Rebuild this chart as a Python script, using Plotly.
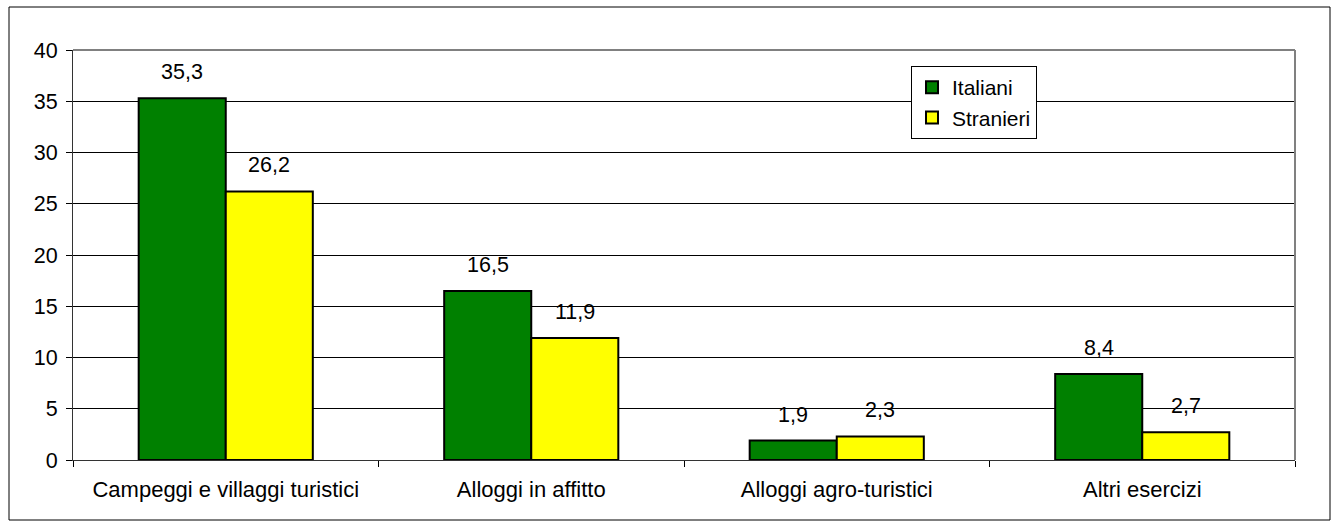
import plotly.graph_objects as go

categories = ["Campeggi e villaggi turistici", "Alloggi in affitto", "Alloggi agro-turistici", "Altri esercizi"]
italiani = [35.3, 16.5, 1.9, 8.4]
stranieri = [26.2, 11.9, 2.3, 2.7]
y_ticks = [0, 5, 10, 15, 20, 25, 30, 35, 40]

W, H = 1338, 527
L, R, T, B = 73, 43, 50, 67
pw, ph = W - L - R, H - T - B
FS = 21.5

def fmt(v):
    return f"{v:.1f}".replace(".", ",")

fig = go.Figure()
fig.add_trace(go.Bar(name="Italiani", x=categories, y=italiani,
                     marker=dict(color="#008000", line=dict(color="black", width=2))))
fig.add_trace(go.Bar(name="Stranieri", x=categories, y=stranieri,
                     marker=dict(color="#FFFF00", line=dict(color="black", width=2))))

slot = pw / len(categories)
bargap = 0.43
barw = slot * (1 - bargap) / 2
anns = []
for series, sh in ((italiani, -barw / 2), (stranieri, barw / 2)):
    for c, v in zip(categories, series):
        anns.append(dict(x=c, y=v, text=fmt(v), showarrow=False, xshift=sh, yshift=26,
                         font=dict(size=FS, color="black")))

font = "Liberation Sans, Arial, sans-serif"
fig.update_layout(
    width=W, height=H,
    margin=dict(l=L, r=R, t=T, b=B),
    barmode="group", bargap=bargap, bargroupgap=0,
    plot_bgcolor="white", paper_bgcolor="white",
    font=dict(family=font, size=FS, color="black"),
    annotations=anns,
    showlegend=True,
    legend=dict(x=(911 - L) / pw, y=(H - B - 66) / ph, xanchor="left", yanchor="top",
                bgcolor="white", bordercolor="black", borderwidth=1,
                font=dict(size=21), itemsizing="constant", tracegroupgap=0),
    xaxis=dict(tickson="boundaries", ticks="outside", ticklen=6, tickcolor="black",
               showline=True, linecolor="#333333", linewidth=1, showgrid=False,
               tickfont=dict(size=22), ticklabelstandoff=10, range=[-0.5, 3.5]),
    yaxis=dict(range=[0, 40], tickvals=y_ticks, ticks="outside", ticklen=6, tickcolor="black",
               showline=True, linecolor="#333333", linewidth=1,
               showgrid=True, gridcolor="black", gridwidth=1, zeroline=False,
               tickfont=dict(size=FS), ticklabelstandoff=4),
    shapes=[
        dict(type="line", xref="paper", yref="paper", x0=1, x1=1, y0=0, y1=1,
             line=dict(color="#808080", width=2)),
        dict(type="line", xref="paper", yref="paper", x0=0, x1=1, y0=1, y1=1,
             line=dict(color="#808080", width=2)),
        dict(type="rect", xref="paper", yref="paper",
             x0=(9 - L) / pw, x1=(1330 - L) / pw,
             y0=(H - B - 520) / ph, y1=(H - B - 7) / ph,
             line=dict(color="black", width=1), layer="below"),
    ],
)
fig.write_html("out.html", config={"displayModeBar": False},
               post_script="document.body.style.margin='0';document.body.style.overflow='hidden';")
